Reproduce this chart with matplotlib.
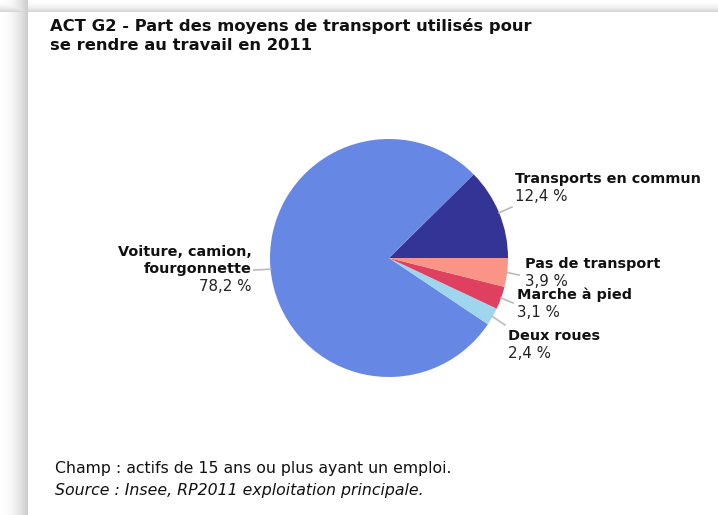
import numpy as np
import matplotlib.pyplot as plt

# data
labels = ["Transports en commun", "Voiture, camion,\nfourgonnette", "Deux roues",
          "Marche à pied", "Pas de transport"]
values = [12.4, 78.2, 2.4, 3.1, 3.9]
value_txt = ["12,4 %", "78,2 %", "2,4 %", "3,1 %", "3,9 %"]
colors = ["#343496", "#6687e3", "#9fd6ee", "#e0405f", "#fa9487"]

W, H = 718, 515
fig = plt.figure(figsize=(W / 100, H / 100), dpi=100)
fig.patch.set_facecolor("white")


def fx(px):
    return px / W


def fy(py):
    return 1 - py / H


# shadow frame around the white panel
bg = fig.add_axes([0, 0, 1, 1], zorder=-10)
img = np.ones((H, W, 3))
xx = np.arange(W)
yy = np.arange(H)
left = np.clip(xx / 27.0, 0, 1) ** 2 * 0.2
left[28:] = 0
top = np.clip(yy / 11.0, 0, 1) ** 2 * 0.16
top[12:] = 0
shade = np.maximum(left[None, :], top[:, None])
img = img - shade[:, :, None]
bg.imshow(img, extent=[0, W, H, 0], aspect="auto")
bg.set_axis_off()

# title
fig.text(fx(50), fy(31), "ACT G2 - Part des moyens de transport utilisés pour",
         fontsize=11.8, fontweight="bold", color="#111111", va="baseline")
fig.text(fx(50), fy(50), "se rendre au travail en 2011",
         fontsize=11.8, fontweight="bold", color="#111111", va="baseline")

# pie
cx, cy, r = 389, 258, 119
ax = fig.add_axes([fx(cx - r), fy(cy + r), 2 * r / W, 2 * r / H])
wedges, _ = ax.pie(values, colors=colors, startangle=0, counterclock=True,
                   radius=1, wedgeprops=dict(linewidth=0))
ax.set_xlim(-1, 1)
ax.set_ylim(-1, 1)
ax.set_axis_off()

# label anchors (pixels): line end, text x, first baseline, ha
anchors = [
    ((512, 207), 515, 183, "left"),
    ((254, 270), 252, 256, "right"),
    ((505, 325), 508, 340, "left"),
    ((513, 303), 517, 299, "left"),
    ((519, 275), 525, 268, "left"),
]

for w, lab, vt, (end, tx, ty, ha) in zip(wedges, labels, value_txt, anchors):
    mid = np.radians((w.theta1 + w.theta2) / 2)
    sx = cx + r * np.cos(mid)
    sy = cy - r * np.sin(mid)
    fig.add_artist(plt.Line2D([fx(sx), fx(end[0])], [fy(sy), fy(end[1])],
                              color="#bbbbbb", lw=1.2))
    lines = lab.split("\n")
    for i, ln in enumerate(lines):
        fig.text(fx(tx), fy(ty + 17 * i), ln, fontsize=10.4, fontweight="bold",
                 color="#111111", ha=ha, va="baseline")
    fig.text(fx(tx), fy(ty + 17 * len(lines) + 1), vt, fontsize=10.8,
             color="#222222", ha=ha, va="baseline")

# footer
fig.text(fx(55), fy(473), "Champ : actifs de 15 ans ou plus ayant un emploi.",
         fontsize=11.3, color="#111111", va="baseline")
fig.text(fx(55), fy(495), "Source : Insee, RP2011 exploitation principale.",
         fontsize=11.3, style="italic", color="#111111", va="baseline")

fig.savefig("out.png", dpi=100)
